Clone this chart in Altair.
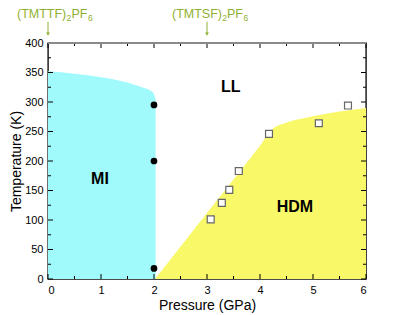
import altair as alt
import pandas as pd

# ---- data ----
mi_p = [0.0, 0.5, 1.0, 1.5, 1.8, 1.92, 1.98, 2.01, 2.03]
mi_t = [352, 348, 342, 333, 324, 320, 316, 311, 305]

hdm_p = [2.02, 3.0, 4.0, 4.25, 4.5, 4.75, 5.0, 5.5, 6.0]
hdm_t = [0, 112, 226, 255, 265, 271, 276, 284, 290]

circ_p = [2.0, 2.0, 2.0]
circ_t = [295, 200, 18]

sq_p = [3.07, 3.28, 3.42, 3.60, 4.17, 5.11, 5.66]
sq_t = [101, 129, 151, 183, 246, 264, 294]

phase_lab = ["MI", "LL", "HDM"]
phase_p = [0.98, 3.45, 4.66]
phase_t = [170, 325, 122]

comp_pos = [0.0, 3.0]
comp_main = ["(TMTTF)", "(TMTSF)"]
comp_sub1 = ["2", "2"]
comp_mid = ["PF", "PF"]
comp_sub2 = ["6", "6"]

x_major = [0, 1, 2, 3, 4, 5, 6]
x_minor = [0.5, 1.5, 2.5, 3.5, 4.5, 5.5]
y_major = [0, 50, 100, 150, 200, 250, 300, 350, 400]
y_minor = [25, 75, 125, 175, 225, 275, 325, 375]

W, H = 318, 236
FONT = "Liberation Sans"
GREEN = "#8fb030"

xs = alt.Scale(domain=[0, 6], nice=False, zero=False)
ys = alt.Scale(domain=[0, 400], nice=False, zero=False)

xaxis = alt.Axis(values=x_major, title="Pressure (GPa)", ticks=False, domain=False, grid=False,
                 labelFont=FONT, labelFontSize=11, labelColor="black", labelPadding=5,
                 labelOverlap=False,
                 titleFont=FONT, titleFontSize=14, titleFontWeight="normal", titleColor="black",
                 titlePadding=3, format="d")
yaxis = alt.Axis(values=y_major, title="Temperature (K)", ticks=False, domain=False, grid=False,
                 labelFont=FONT, labelFontSize=11, labelColor="black", labelPadding=5,
                 labelOverlap=False,
                 titleFont=FONT, titleFontSize=14, titleFontWeight="normal", titleColor="black",
                 titlePadding=1, format="d")

def X(f):
    return alt.X(f, scale=xs, axis=xaxis, title="Pressure (GPa)")

def Y(f):
    return alt.Y(f, scale=ys, axis=yaxis, title="Temperature (K)")

mi_df = pd.DataFrame({"p": mi_p, "t": mi_t})
hdm_df = pd.DataFrame({"p": hdm_p, "t": hdm_t})

mi = alt.Chart(mi_df).mark_area(color="#a0fafc", interpolate="monotone").encode(
    x=X("p:Q"), y=Y("t:Q"), y2=alt.datum(0)
)
hdm = alt.Chart(hdm_df).mark_area(color="#f8f868", interpolate="monotone").encode(
    x=X("p:Q"), y=Y("t:Q"), y2=alt.datum(0)
)

circ = alt.Chart(pd.DataFrame({"p": circ_p, "t": circ_t})).mark_point(
    shape="circle", filled=True, color="black", size=45, opacity=1
).encode(x=X("p:Q"), y=Y("t:Q"))

sq = alt.Chart(pd.DataFrame({"p": sq_p, "t": sq_t})).mark_point(
    shape="square", filled=True, fill="white", stroke="#666666", strokeWidth=1.2, size=48, opacity=1
).encode(x=X("p:Q"), y=Y("t:Q"))

labels = alt.Chart(pd.DataFrame({"p": phase_p, "t": phase_t, "lab": phase_lab})).mark_text(
    font=FONT, fontSize=16, fontWeight="bold", color="black"
).encode(x=X("p:Q"), y=Y("t:Q"), text="lab:N")

# ---- ticks (inward, all four sides) ----
def vticks(vals, y0, y1):
    return alt.Chart(pd.DataFrame({"p": vals})).mark_rule(color="black", strokeWidth=1).encode(
        x=X("p:Q"), y=alt.value(y0), y2=alt.value(y1))

def hticks(vals, x0, x1):
    return alt.Chart(pd.DataFrame({"t": vals})).mark_rule(color="black", strokeWidth=1).encode(
        y=Y("t:Q"), x=alt.value(x0), x2=alt.value(x1))

ticks = [
    vticks(x_major, H, H - 5), vticks(x_minor, H, H - 3),
    vticks(x_major, 0, 5), vticks(x_minor, 0, 3),
    hticks(y_major, 0, 5), hticks(y_minor, 0, 3),
    hticks(y_major, W, W - 5), hticks(y_minor, W, W - 3),
]

top_border = alt.Chart(pd.DataFrame({"v": [0]})).mark_rule(color="#8a8a8a", strokeWidth=2).encode(
    x=alt.value(0), x2=alt.value(W), y=alt.value(0))

# ---- compound annotations with arrows ----
ann = []
offsets = [(-31.0, 18.5, 23.5, 40.0), (-35.0, 15.2, 20.0, 36.5)]
for i in range(len(comp_pos)):
    d = pd.DataFrame({"p": [comp_pos[i]], "main": [comp_main[i]], "s1": [comp_sub1[i]],
                      "mid": [comp_mid[i]], "s2": [comp_sub2[i]],
                      "ty": [443], "a0": [436], "a1": [417], "ah": [415]})
    o = offsets[i]
    base = alt.Chart(d)
    ann += [
        base.mark_text(font=FONT, fontSize=12.5, color=GREEN, align="left", baseline="alphabetic", dx=o[0])
            .encode(x=X("p:Q"), y=Y("ty:Q"), text="main:N"),
        base.mark_text(font=FONT, fontSize=8.5, color=GREEN, align="left", baseline="alphabetic", dx=o[1], dy=3)
            .encode(x=X("p:Q"), y=Y("ty:Q"), text="s1:N"),
        base.mark_text(font=FONT, fontSize=12.5, color=GREEN, align="left", baseline="alphabetic", dx=o[2])
            .encode(x=X("p:Q"), y=Y("ty:Q"), text="mid:N"),
        base.mark_text(font=FONT, fontSize=8.5, color=GREEN, align="left", baseline="alphabetic", dx=o[3], dy=3)
            .encode(x=X("p:Q"), y=Y("ty:Q"), text="s2:N"),
        base.mark_rule(color=GREEN, strokeWidth=1)
            .encode(x=X("p:Q"), y=Y("a0:Q"), y2="a1:Q"),
        base.mark_point(shape="triangle-down", filled=True, color=GREEN, size=14, opacity=1)
            .encode(x=X("p:Q"), y=Y("ah:Q")),
    ]

chart = alt.layer(mi, hdm, circ, sq, labels, *ticks, top_border, *ann).properties(
    width=W, height=H,
    autosize="none",
    padding={"left": 40, "top": 35, "right": 40, "bottom": 35},
).configure_view(stroke="#111111", strokeWidth=1.4)

chart.save("out.html", embed_options={"renderer": "svg", "actions": False})
